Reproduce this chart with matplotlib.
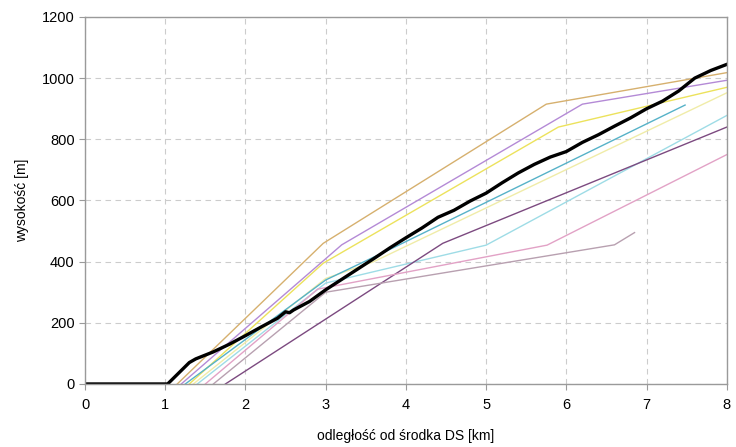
import matplotlib
matplotlib.use("Agg")
import matplotlib.pyplot as plt

plt.rcParams['font.family'] = ['Liberation Sans', 'DejaVu Sans']

# profile of the terrain (thick black line)
teren_x = [0, 1.0, 1.03, 1.3, 1.38, 1.6, 1.8, 2.0, 2.2, 2.4, 2.5, 2.55, 2.6, 2.8,
           3.0, 3.2, 3.4, 3.6, 3.8, 4.0, 4.2, 4.4, 4.6, 4.8, 5.0, 5.2, 5.4, 5.6,
           5.8, 6.0, 6.2, 6.4, 6.6, 6.8, 7.0, 7.2, 7.4, 7.6, 7.8, 8.0]
teren_y = [0, 0, 0, 70, 82, 105, 130, 158, 187, 215, 236, 233, 242, 270,
           308, 342, 376, 410, 445, 478, 510, 545, 568, 598, 624, 658, 690, 718,
           742, 760, 790, 815, 843, 870, 900, 925, 958, 1000, 1025, 1045]

# other profiles (thin coloured lines)
tan_x = [1.15, 2.97, 5.75, 8.0]
tan_y = [0, 460, 915, 1018]
purple_x = [1.2, 3.2, 6.2, 8.0]
purple_y = [0, 455, 915, 993]
yellow_x = [1.3, 2.97, 5.9, 8.0]
yellow_y = [0, 395, 840, 970]
paleyellow_x = [1.35, 3.0, 3.6, 8.0]
paleyellow_y = [0, 345, 400, 952]
teal_x = [1.25, 3.0, 3.8, 7.48]
teal_y = [0, 340, 440, 912]
lightcyan_x = [1.4, 3.0, 5.0, 8.0]
lightcyan_y = [0, 330, 454, 878]
darkpurple_x = [1.75, 4.46, 8.0]
darkpurple_y = [0, 460, 840]
pink_x = [1.5, 2.9, 5.76, 8.0]
pink_y = [0, 310, 454, 750]
graypink_x = [1.6, 3.0, 6.6, 6.85]
graypink_y = [0, 300, 455, 495]

profiles = [
    (tan_x, tan_y, '#d6b06e'),
    (purple_x, purple_y, '#b48ad6'),
    (yellow_x, yellow_y, '#ece25c'),
    (paleyellow_x, paleyellow_y, '#f0eca8'),
    (teal_x, teal_y, '#56b2c8'),
    (lightcyan_x, lightcyan_y, '#9edce6'),
    (darkpurple_x, darkpurple_y, '#7c4a80'),
    (pink_x, pink_y, '#e2a2c6'),
    (graypink_x, graypink_y, '#b8a0b0'),
]

fig = plt.figure(figsize=(7.36, 4.47), dpi=100)
ax = fig.add_axes([0.1155, 0.141, 0.872, 0.821])

for xs, ys, c in profiles:
    ax.plot(xs, ys, color=c, linewidth=1.0)
ax.plot(teren_x, teren_y, color='black', linewidth=2.4)

ax.set_xlim(0, 8)
ax.set_ylim(0, 1200)
ax.set_xticks(range(0, 9))
ax.set_yticks(range(0, 1201, 200))
ax.grid(True, linestyle=(0, (5, 4)), color='#cccccc', linewidth=0.8)
ax.set_axisbelow(True)
for s in ax.spines.values():
    s.set_color('#9a9a9a')
    s.set_linewidth(1.0)
ax.tick_params(axis='both', labelsize=10.5, color='#9a9a9a', length=4)
ax.tick_params(axis='x', pad=6)
ax.set_xlabel('odległość od środka DS [km]', fontsize=10, labelpad=12)
ax.set_ylabel('wysokość [m]', fontsize=10, labelpad=9)

fig.savefig('out.png', dpi=100)
